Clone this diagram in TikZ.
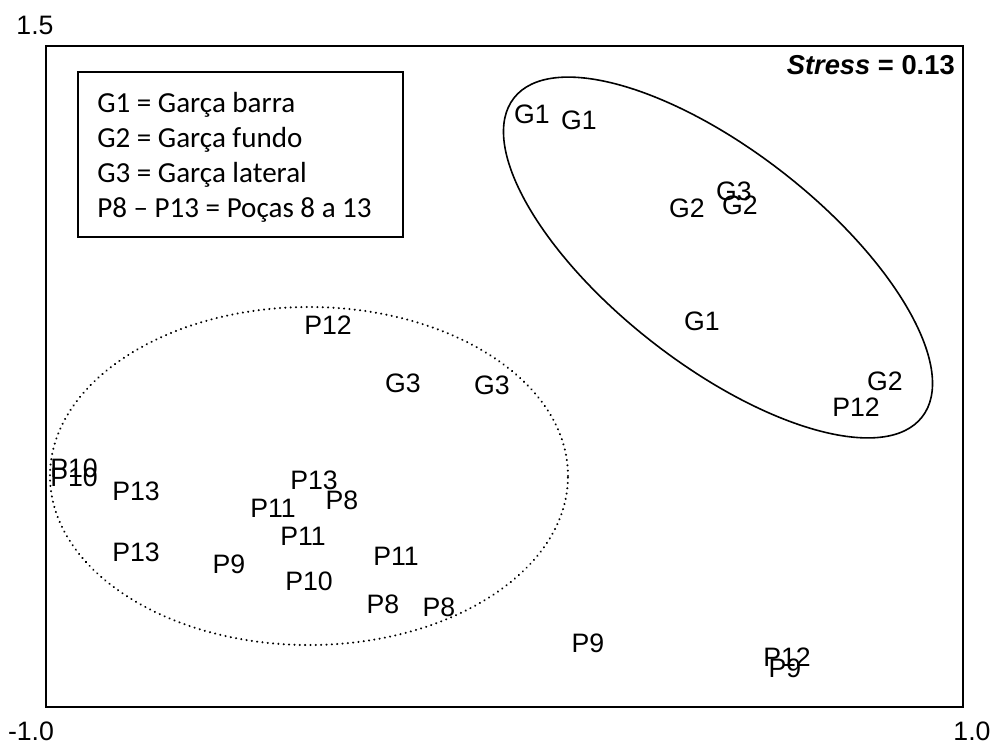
\documentclass[tikz,border=0pt]{standalone}
\usepackage{fontspec}
\setmainfont{Liberation Sans}
\newfontfamily\legfont{Carlito}
\usepackage{tikz}
\tikzset{
	pt/.style={inner sep=0pt,font=\fontsize{20}{22}\selectfont},
	axlab/.style={inner sep=0pt,font=\fontsize{20}{22}\selectfont},
	legline/.style={inner sep=0pt,anchor=base west,font=\legfont\fontsize{21.8}{24}\selectfont}
}
\begin{document}
\begin{tikzpicture}[x=0.75pt,y=-0.75pt]
		\useasboundingbox (0,0) rectangle (995,744);
		\draw [line width=1.3pt] (46,46) rectangle (963,707);
		\node [axlab] (ytop) at (35,25) {1.5};
		\node [axlab] (xmin) at (31,731) {-1.0};
		\node [axlab] (xmax) at (972,731) {1.0};
		\node [inner sep=0pt,anchor=east,font=\bfseries\fontsize{20.5}{22}\selectfont] (stress) at (955,65) {\textit{Stress} = 0.13};
		% legenda
		\draw [line width=1.3pt] (78,72) rectangle (403,237);
		\node [legline] (leg1) at (97,112) {G1 = Garça barra};
		\node [legline] (leg2) at (97,147) {G2 = Garça fundo};
		\node [legline] (leg3) at (97,182) {G3 = Garça lateral};
		\node [legline] (leg4) at (97,217) {P8 – P13 = Poças 8 a 13};
		% grupos
		\coordinate (garca) at (718,257.5);
		\draw [line width=1.2pt,rotate around={-38:(garca)}] (garca) ellipse [x radius=194.25pt,y radius=80.25pt];
		\coordinate (pocas) at (309,476);
		\draw [line width=1.7pt,line cap=round,dash pattern=on 0.01pt off 4pt] (pocas) ellipse [x radius=194.25pt,y radius=126.75pt];
		% amostras G
		\node [pt] (g1a) at (532,114) {G1};
		\node [pt] (g1b) at (579,120) {G1};
		\node [pt] (g3a) at (734,191) {G3};
		\node [pt] (g2a) at (740,205) {G2};
		\node [pt] (g2b) at (687,208) {G2};
		\node [pt] (g1c) at (702,321) {G1};
		\node [pt] (g2c) at (885,381) {G2};
		\node [pt] (p12a) at (856,407) {P12};
		\node [pt] (p12b) at (328,325) {P12};
		\node [pt] (g3b) at (403,383) {G3};
		\node [pt] (g3c) at (492,385) {G3};
		% amostras P
		\node [pt] (p10a) at (74,468) {P10};
		\node [pt] (p10b) at (74,477) {P10};
		\node [pt] (p13a) at (136,491) {P13};
		\node [pt] (p13b) at (314,480) {P13};
		\node [pt] (p8a) at (342,500) {P8};
		\node [pt] (p11a) at (273,508) {P11};
		\node [pt] (p11b) at (303,536) {P11};
		\node [pt] (p13c) at (136,552) {P13};
		\node [pt] (p9a) at (229,564) {P9};
		\node [pt] (p11c) at (396,556) {P11};
		\node [pt] (p10c) at (309,581) {P10};
		\node [pt] (p8b) at (383,604) {P8};
		\node [pt] (p8c) at (439,607) {P8};
		\node [pt] (p9b) at (588,643) {P9};
		\node [pt] (p12c) at (787,657) {P12};
		\node [pt] (p9c) at (785,668) {P9};
\end{tikzpicture}
\end{document}
